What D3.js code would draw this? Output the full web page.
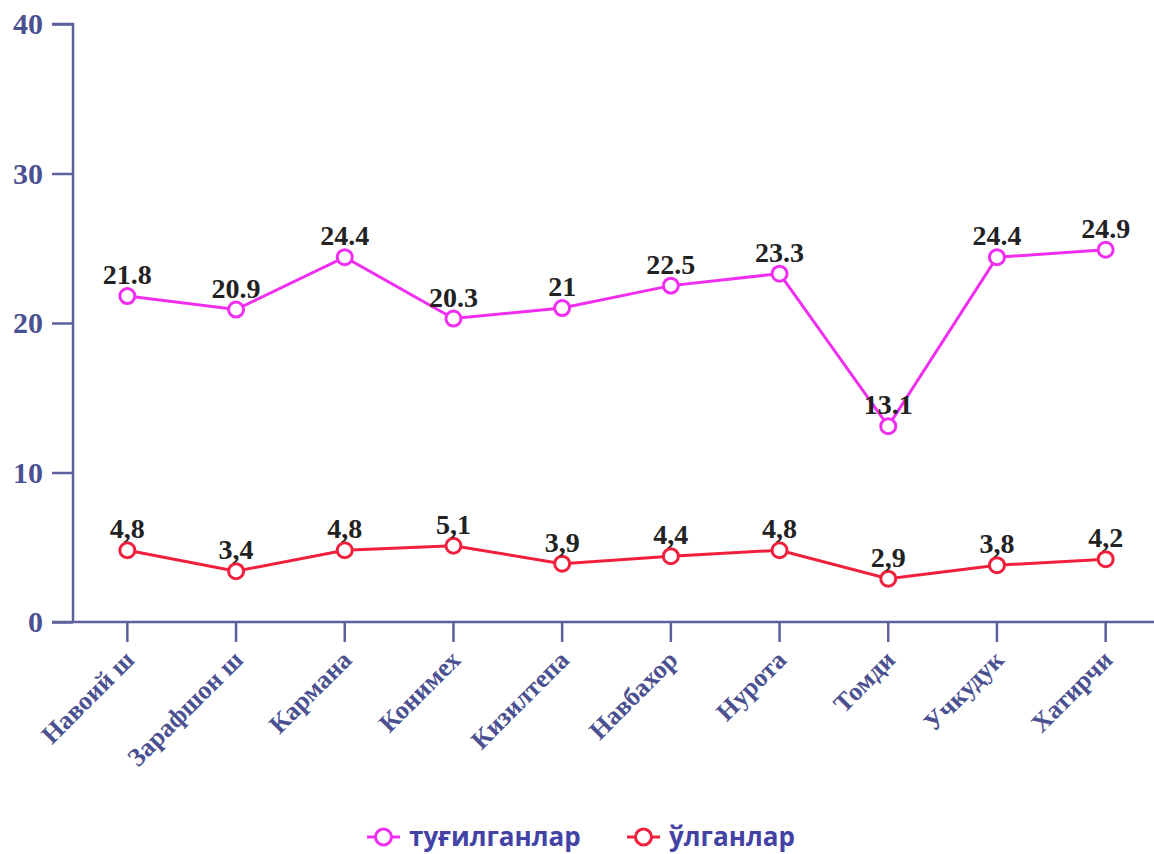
<!DOCTYPE html>
<html>
<head>
<meta charset="utf-8">
<script src="https://cdn.jsdelivr.net/npm/d3@7"></script>
<style>
  body { margin: 0; background: #fff; }
  .tick text { font-family: "Liberation Serif", "Times New Roman", serif; font-weight: bold; fill: #4b5090; }
  .val { font-family: "Liberation Serif", "Times New Roman", serif; font-weight: bold; font-size: 28px; fill: #222; }
  .leg { font-family: "Open Sans", "Noto Sans", sans-serif; font-weight: bold; font-size: 26px; fill: #4343a6; }
</style>
</head>
<body>
<div id="chart"></div>
<script>
// data
var districts = ["Навоий ш", "Зарафшон ш", "Кармана", "Конимех", "Кизилтепа", "Навбахор", "Нурота", "Томди", "Учкудук", "Хатирчи"];
var births = [21.8, 20.9, 24.4, 20.3, 21, 22.5, 23.3, 13.1, 24.4, 24.9];
var deaths = [4.8, 3.4, 4.8, 5.1, 3.9, 4.4, 4.8, 2.9, 3.8, 4.2];
var seriesNames = ["туғилганлар", "ўлганлар"];
var seriesColors = ["#f02ef0", "#f0203c"];
var yTicks = [0, 10, 20, 30, 40];

var W = 1154, H = 854;
var margin = {top: 24, right: -6, bottom: 232, left: 73};
var width = W - margin.left - margin.right,
    height = H - margin.top - margin.bottom;

var svg = d3.select("#chart").append("svg")
    .attr("width", W)
    .attr("height", H)
  .append("g")
    .attr("transform", "translate(" + margin.left + "," + margin.top + ")");

// Scales
var x = d3.scaleBand().domain(districts).range([0, width]);
var y = d3.scaleLinear().domain([0, 40]).range([height, 0]);

var axisColor = "#5c619c";

// Axes
var xAxis = d3.axisBottom(x).tickSize(20).tickPadding(6);
var yAxis = d3.axisLeft(y).tickValues(yTicks).tickSize(21).tickPadding(9);

var gx = svg.append("g")
  .attr("class", "axis x-axis")
  .attr("transform", "translate(0," + height + ")")
  .call(xAxis);
gx.select(".domain").attr("d", "M-21,0H" + width);
gx.selectAll("line, path").attr("stroke", axisColor).attr("stroke-width", 2.5);
gx.selectAll(".tick text")
  .attr("font-size", 26)
  .attr("text-anchor", "end")
  .attr("x", 0)
  .attr("y", 0)
  .attr("dy", "0.35em")
  .attr("transform", "translate(2,33)rotate(-45)");

var gy = svg.append("g")
  .attr("class", "axis y-axis")
  .call(yAxis);
gy.select(".domain").attr("d", "M0," + height + "V0H-21");
gy.selectAll("line, path").attr("stroke", axisColor).attr("stroke-width", 2.5);
gy.selectAll(".tick text").attr("font-size", 30);

// Lines
var line = d3.line()
  .x(function(d, i) { return x(districts[i]) + x.bandwidth() / 2; })
  .y(function(d) { return y(d); });

[births, deaths].forEach(function(vals, s) {
  svg.append("path")
    .attr("d", line(vals))
    .attr("fill", "none")
    .attr("stroke", seriesColors[s])
    .attr("stroke-width", 3);

  svg.selectAll(".pt" + s)
    .data(vals)
    .enter().append("circle")
    .attr("cx", function(d, i) { return x(districts[i]) + x.bandwidth() / 2; })
    .attr("cy", function(d) { return y(d); })
    .attr("r", 7.5)
    .attr("fill", "#fff")
    .attr("stroke", seriesColors[s])
    .attr("stroke-width", 3);

  svg.selectAll(".val" + s)
    .data(vals)
    .enter().append("text")
    .attr("class", "val")
    .attr("text-anchor", "middle")
    .attr("x", function(d, i) { return x(districts[i]) + x.bandwidth() / 2; })
    .attr("y", function(d) { return y(d) - 12; })
    .text(function(d) { return s === 1 ? String(d).replace(".", ",") : d; });
});

// Legend
var legendX = [367, 627];
var legend = svg.append("g").attr("transform", "translate(" + (-margin.left) + "," + (-margin.top) + ")");
seriesNames.forEach(function(name, s) {
  var g = legend.append("g").attr("transform", "translate(" + legendX[s] + ",837)");
  g.append("line").attr("x1", 0).attr("x2", 33).attr("y1", 0).attr("y2", 0)
    .attr("stroke", seriesColors[s]).attr("stroke-width", 3);
  g.append("circle").attr("cx", 16.5).attr("cy", 0).attr("r", 8)
    .attr("fill", "#fff").attr("stroke", seriesColors[s]).attr("stroke-width", 3);
  g.append("text").attr("class", "leg").attr("x", 42).attr("y", 9).text(name);
});
</script>
</body>
</html>
